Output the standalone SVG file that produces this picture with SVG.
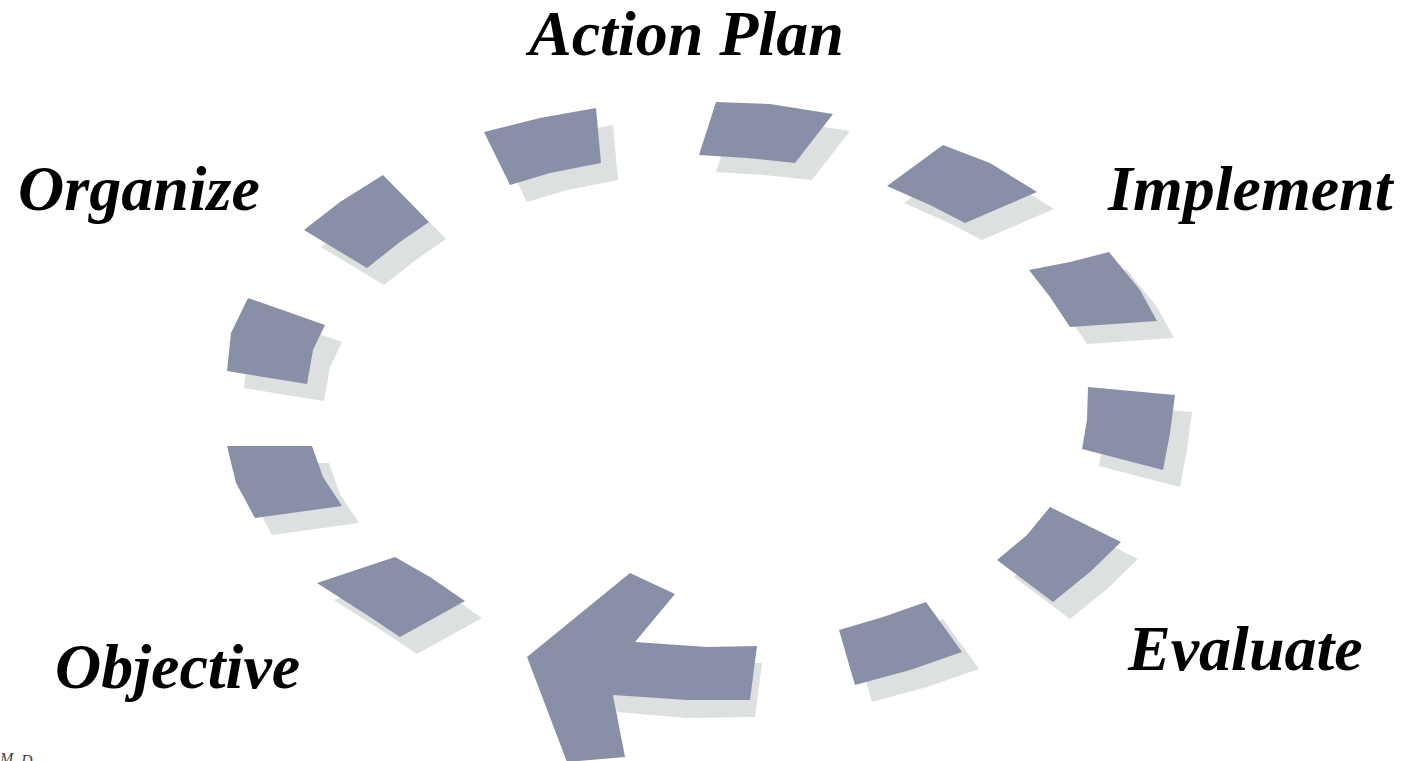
<svg xmlns="http://www.w3.org/2000/svg" width="1402" height="761" viewBox="0 0 1402 761">
<style>
.seg{fill:#8A8FA8}
.sh{fill:#DCE0DF}
.lbl{font-family:"Liberation Serif","Times New Roman",serif;font-weight:bold;font-style:italic;font-size:64px;fill:#000}
.tiny{font-family:"Liberation Serif","Times New Roman",serif;font-style:italic;font-size:16px;fill:#444}
</style>
<defs>
<polygon id="p1" points="484,132 540,118 596,108 601,163 550,173 510,185"/>
<polygon id="p2" points="716,102 770,104 833,114 795,163 747,158 699,155"/>
<polygon id="p3" points="943,145 990,163 1037,192 965,223 930,205 887,186"/>
<polygon id="p4" points="1029,270 1070,262 1109,252 1140,290 1157,321 1070,327 1050,297"/>
<polygon id="p5" points="1088,387 1175,395 1170,433 1163,470 1082,449 1087,420"/>
<polygon id="p6" points="1050,507 1121,542 1090,572 1053,602 997,560 1027,535"/>
<polygon id="p7" points="839,630 883,617 926,602 962,652 910,670 855,685"/>
<polygon id="p8" points="383,175 429,222 400,242 367,268 304,230 340,202"/>
<polygon id="p9" points="248,298 325,325 313,350 307,384 227,371 231,333"/>
<polygon id="p10" points="227,446 312,446 323,477 342,506 255,518 236,483"/>
<polygon id="p11" points="317,583 395,557 430,577 465,601 400,637 370,617"/>
</defs>
<g id="shadows">
<use href="#p1" class="sh" transform="translate(17,17)"/>
<use href="#p2" class="sh" transform="translate(17,17)"/>
<use href="#p3" class="sh" transform="translate(17,17)"/>
<use href="#p4" class="sh" transform="translate(17,17)"/>
<use href="#p5" class="sh" transform="translate(17,17)"/>
<use href="#p6" class="sh" transform="translate(17,17)"/>
<use href="#p7" class="sh" transform="translate(17,17)"/>
<use href="#p8" class="sh" transform="translate(17,17)"/>
<use href="#p9" class="sh" transform="translate(17,17)"/>
<use href="#p10" class="sh" transform="translate(17,17)"/>
<use href="#p11" class="sh" transform="translate(17,17)"/>
<polygon class="sh" points="640,660 762,663 755,717 687,718 617,712 613,695"/>
</g>
<g id="segments">
<use id="seg1" href="#p1" class="seg"/>
<use id="seg2" href="#p2" class="seg"/>
<use id="seg3" href="#p3" class="seg"/>
<use id="seg4" href="#p4" class="seg"/>
<use id="seg5" href="#p5" class="seg"/>
<use id="seg6" href="#p6" class="seg"/>
<use id="seg7" href="#p7" class="seg"/>
<use id="seg8" href="#p8" class="seg"/>
<use id="seg9" href="#p9" class="seg"/>
<use id="seg10" href="#p10" class="seg"/>
<use id="seg11" href="#p11" class="seg"/>
</g>
<g id="arrow">
<polygon class="seg" points="630,573 675,594 635,642 707,647 757,646 750,700 687,700 613,695 625,757 567,762 527,657"/>
</g>
<g id="labels">
<text id="action-plan" class="lbl" x="529" y="55">Action Plan</text>
<text id="organize" class="lbl" x="18" y="210">Organize</text>
<text id="implement" class="lbl" x="1108" y="210">Implement</text>
<text id="evaluate" class="lbl" x="1128" y="670">Evaluate</text>
<text id="objective" class="lbl" x="55" y="688">Objective</text>
<text class="tiny" x="0" y="764">M</text>
<text class="tiny" x="21" y="766">D</text>
</g>
</svg>
